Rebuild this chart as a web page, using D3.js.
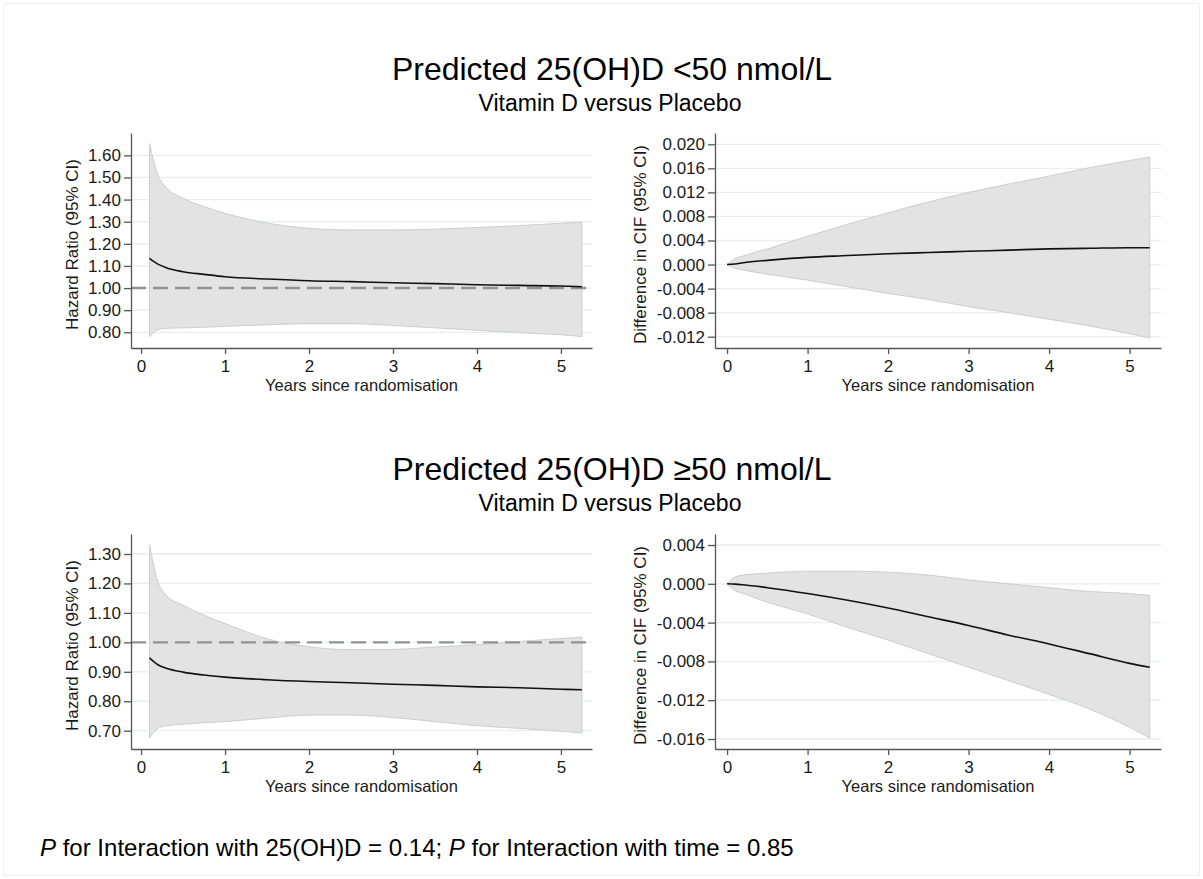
<!DOCTYPE html>
<html>
<head>
<meta charset="utf-8">
<script src="https://cdn.jsdelivr.net/npm/d3@7"></script>
<style>
  html, body { margin: 0; padding: 0; background: #fff; }
  svg { display: block; font-family: "Liberation Sans", Arial, sans-serif; }
</style>
</head>
<body>
<svg id="chart" width="1203" height="879"></svg>
<script>
// time points
var hrTimes = [0.1, 0.2, 0.3, 0.5, 0.75, 1, 1.5, 2, 2.5, 3, 3.5, 4, 4.5, 5, 5.25];
var cifTimes = [0, 0.1, 0.2, 0.5, 1, 1.5, 2, 2.5, 3, 3.5, 4, 4.5, 5, 5.25];

// 25(OH)D < 50 nmol/L
var hrLowEst   = [1.134, 1.108, 1.092, 1.074, 1.062, 1.051, 1.041, 1.033, 1.029, 1.024, 1.020, 1.015, 1.012, 1.009, 1.006];
var hrLowUpper = [1.653, 1.512, 1.455, 1.406, 1.368, 1.338, 1.294, 1.270, 1.263, 1.263, 1.266, 1.274, 1.282, 1.293, 1.297];
var hrLowLower = [0.780, 0.812, 0.818, 0.820, 0.823, 0.827, 0.834, 0.839, 0.839, 0.831, 0.820, 0.809, 0.798, 0.789, 0.781];

var cifLowEst   = [0, 0.0001, 0.0003, 0.0007, 0.0012, 0.0015, 0.0018, 0.0020, 0.0022, 0.0024, 0.0026, 0.0027, 0.0028, 0.0028];
var cifLowUpper = [0, 0.0010, 0.00145, 0.0026, 0.0047, 0.0067, 0.0086, 0.0104, 0.0120, 0.0134, 0.0147, 0.0161, 0.0173, 0.0179];
var cifLowLower = [0, -0.0006, -0.0009, -0.0016, -0.0026, -0.0037, -0.0048, -0.0058, -0.0070, -0.0080, -0.0091, -0.0102, -0.0115, -0.0122];

// 25(OH)D >= 50 nmol/L
var hrHighEst   = [0.947, 0.924, 0.912, 0.899, 0.889, 0.882, 0.873, 0.867, 0.863, 0.858, 0.854, 0.849, 0.846, 0.841, 0.839];
var hrHighUpper = [1.331, 1.206, 1.160, 1.126, 1.092, 1.064, 1.012, 0.985, 0.975, 0.976, 0.984, 0.992, 1.003, 1.013, 1.018];
var hrHighLower = [0.675, 0.708, 0.717, 0.722, 0.727, 0.731, 0.743, 0.753, 0.753, 0.745, 0.731, 0.717, 0.708, 0.698, 0.692];

var cifHighEst   = [0, -0.00003, -0.0001, -0.0004, -0.0010, -0.0017, -0.0025, -0.0034, -0.0043, -0.0053, -0.0062, -0.0072, -0.0082, -0.0086];
var cifHighUpper = [0, 0.0007, 0.0009, 0.0011, 0.0013, 0.0013, 0.0012, 0.0009, 0.0004, 0.0000, -0.0004, -0.0008, -0.0010, -0.0012];
var cifHighLower = [0, -0.0007, -0.0010, -0.0019, -0.0031, -0.0045, -0.0058, -0.0072, -0.0086, -0.0100, -0.0114, -0.0129, -0.0148, -0.0159];

// tick labels
var xTicks = [0, 1, 2, 3, 4, 5];
var hrLowTicks = [0.8, 0.9, 1.0, 1.1, 1.2, 1.3, 1.4, 1.5, 1.6];
var cifLowTicks = [-0.012, -0.008, -0.004, 0, 0.004, 0.008, 0.012, 0.016, 0.020];
var hrHighTicks = [0.7, 0.8, 0.9, 1.0, 1.1, 1.2, 1.3];
var cifHighTicks = [-0.016, -0.012, -0.008, -0.004, 0, 0.004];

var titles = ['Predicted 25(OH)D <50 nmol/L', 'Predicted 25(OH)D \u226550 nmol/L'];
var subtitle = 'Vitamin D versus Placebo';
var xTitle = 'Years since randomisation';
var hrTitle = 'Hazard Ratio (95% CI)';
var cifTitle = 'Difference in CIF (95% CI)';

var colors = {
  band: '#e3e3e3',
  bandEdge: '#cdcdcd',
  line: '#111111',
  ref: '#929292',
  grid: '#e5eef1',
  axis: '#555555',
  text: '#1a1a1a'
};

var svg = d3.select('#chart');

svg.append('rect')
  .attr('x', 3.5).attr('y', 3.5)
  .attr('width', 1196).attr('height', 872)
  .attr('fill', '#fff')
  .attr('stroke', '#f0f0f0');

function fmt(spec) {
  var f = d3.format(spec);
  return function(v) { return f(v).replace('\u2212', '-'); };
}

function makeRows(times, est, lo, hi) {
  return times.map(function(t, i) {
    return { t: t, est: est[i], lo: lo[i], hi: hi[i] };
  });
}

/**
 * one panel: band, optional reference line, estimate line, axes
 */
function drawPanel(opts) {
  var x = d3.scaleLinear().domain(opts.xDomain).range(opts.xRange);
  var y = d3.scaleLinear().domain(opts.yDomain).range(opts.yRange);
  var g = svg.append('g');
  var rows = opts.rows;

  // grid
  g.append('g').selectAll('line')
    .data(opts.yTicks)
    .enter().append('line')
    .attr('x1', opts.xRange[0]).attr('x2', opts.xRange[1])
    .attr('y1', function(d) { return y(d); })
    .attr('y2', function(d) { return y(d); })
    .attr('stroke', colors.grid)
    .attr('stroke-width', 1.3);

  var area = d3.area()
    .x(function(d) { return x(d.t); })
    .y0(function(d) { return y(d.lo); })
    .y1(function(d) { return y(d.hi); })
    .curve(d3.curveMonotoneX);

  g.append('path')
    .datum(rows)
    .attr('d', area)
    .attr('fill', colors.band)
    .attr('stroke', colors.bandEdge)
    .attr('stroke-width', 1);

  if (opts.refLine != null) {
    g.append('line')
      .attr('x1', opts.xRange[0]).attr('x2', opts.xRange[1])
      .attr('y1', y(opts.refLine)).attr('y2', y(opts.refLine))
      .attr('stroke', colors.ref)
      .attr('stroke-width', 2.4)
      .attr('stroke-dasharray', '15,7');
  }

  var line = d3.line()
    .x(function(d) { return x(d.t); })
    .y(function(d) { return y(d.est); })
    .curve(d3.curveMonotoneX);

  g.append('path')
    .datum(rows)
    .attr('d', line)
    .attr('fill', 'none')
    .attr('stroke', colors.line)
    .attr('stroke-width', 1.6);

  // axes
  var yAxis = d3.axisLeft(y)
    .tickValues(opts.yTicks)
    .tickFormat(opts.yFormat)
    .tickSize(7)
    .tickSizeOuter(0)
    .tickPadding(3);

  var xAxis = d3.axisBottom(x)
    .tickValues(xTicks)
    .tickFormat(d3.format('d'))
    .tickSize(6)
    .tickSizeOuter(0)
    .tickPadding(6);

  var ya = g.append('g')
    .attr('transform', 'translate(' + opts.xRange[0] + ',0)')
    .call(yAxis);
  var xa = g.append('g')
    .attr('transform', 'translate(0,' + opts.yRange[0] + ')')
    .call(xAxis);

  [ya, xa].forEach(function(a) {
    a.select('.domain').attr('stroke', colors.axis).attr('stroke-width', 1.3);
    a.selectAll('.tick line').attr('stroke', colors.axis).attr('stroke-width', 1.3);
    a.selectAll('.tick text')
      .attr('fill', colors.text)
      .style('font-size', '17px')
      .style('font-family', '"Liberation Sans", Arial, sans-serif');
  });

  g.append('text')
    .attr('x', (opts.xRange[0] + opts.xRange[1]) / 2)
    .attr('y', opts.yRange[0] + 43)
    .attr('text-anchor', 'middle')
    .attr('fill', colors.text)
    .style('font-size', '16.5px')
    .text(xTitle);

  g.append('text')
    .attr('transform', 'translate(' + opts.yTitleX + ',' + ((opts.yRange[0] + opts.yRange[1]) / 2 + 4) + ') rotate(-90)')
    .attr('text-anchor', 'middle')
    .attr('fill', colors.text)
    .style('font-size', '17px')
    .text(opts.yTitle);
}

function drawHeading(title, yTitle, ySub) {
  svg.append('text')
    .attr('x', 612).attr('y', yTitle)
    .attr('text-anchor', 'middle')
    .attr('fill', '#000')
    .style('font-size', '32px')
    .text(title);
  svg.append('text')
    .attr('x', 610).attr('y', ySub)
    .attr('text-anchor', 'middle')
    .attr('fill', '#000')
    .style('font-size', '23px')
    .text(subtitle);
}

drawHeading(titles[0], 80, 111);
drawHeading(titles[1], 480, 511);

var leftX = { dom: [-0.12, 5.37], rng: [131, 592] };
var rightX = { dom: [-0.15, 5.39], rng: [715, 1161] };

drawPanel({
  rows: makeRows(hrTimes, hrLowEst, hrLowLower, hrLowUpper),
  xDomain: leftX.dom, xRange: leftX.rng,
  yDomain: [0.729, 1.701], yRange: [348, 133],
  yTicks: hrLowTicks, yFormat: fmt('.2f'),
  refLine: 1, yTitle: hrTitle, yTitleX: 78
});

drawPanel({
  rows: makeRows(cifTimes, cifLowEst, cifLowLower, cifLowUpper),
  xDomain: rightX.dom, xRange: rightX.rng,
  yDomain: [-0.01388, 0.02188], yRange: [348, 133],
  yTicks: cifLowTicks, yFormat: fmt('.3f'),
  refLine: null, yTitle: cifTitle, yTitleX: 646
});

drawPanel({
  rows: makeRows(hrTimes, hrHighEst, hrHighLower, hrHighUpper),
  xDomain: leftX.dom, xRange: leftX.rng,
  yDomain: [0.6379, 1.3679], yRange: [749, 534],
  yTicks: hrHighTicks, yFormat: fmt('.2f'),
  refLine: 1, yTitle: hrTitle, yTitleX: 78
});

drawPanel({
  rows: makeRows(cifTimes, cifHighEst, cifHighLower, cifHighUpper),
  xDomain: rightX.dom, xRange: rightX.rng,
  yDomain: [-0.01703, 0.005134], yRange: [749, 534],
  yTicks: cifHighTicks, yFormat: fmt('.3f'),
  refLine: null, yTitle: cifTitle, yTitleX: 646
});

// footer note
var note = svg.append('text')
  .attr('x', 40).attr('y', 856)
  .attr('fill', '#000')
  .style('font-size', '24px');
note.append('tspan').style('font-style', 'italic').text('P');
note.append('tspan').text(' for Interaction with 25(OH)D = 0.14; ');
note.append('tspan').style('font-style', 'italic').text('P');
note.append('tspan').text(' for Interaction with time = 0.85');
</script>
</body>
</html>
